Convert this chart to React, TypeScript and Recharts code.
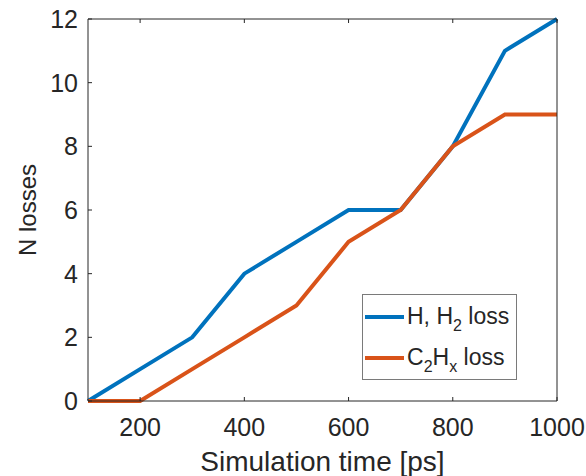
import React from 'react';
import { LineChart, Line, XAxis, YAxis, Legend } from 'recharts';

// simulation time [ps]
const times = [100, 200, 300, 400, 500, 600, 700, 800, 900, 1000];
// H, H2 loss
const hLoss = [0, 1, 2, 4, 5, 6, 6, 8, 11, 12];
// C2Hx loss
const cLoss = [0, 0, 1, 2, 3, 5, 6, 8, 9, 9];

const xTicks = [200, 400, 600, 800, 1000];
const yTicks = [0, 2, 4, 6, 8, 10, 12];

const BLUE = '#0072BD';
const ORANGE = '#D95319';
const AXIS = '#262626';
const FONT = '"Liberation Sans", Arial, Helvetica, sans-serif';

const data = times.map((t, i) => ({ t, h: hLoss[i], c: cLoss[i] }));

const noTick = () => <g />;

function LegendBox() {
    const row = (color: string, label: React.ReactNode) => (
        <div style={{ display: 'flex', alignItems: 'center', height: 41 }}>
            <div style={{ width: 39, height: 4, background: color, marginLeft: 2, marginRight: 3 }} />
            <span style={{ fontSize: 23, color: AXIS, whiteSpace: 'nowrap' }}>{label}</span>
        </div>
    );
    const sub = (s: string) => (
        <sub style={{ fontSize: 16, verticalAlign: 'baseline', position: 'relative', top: 7 }}>{s}</sub>
    );
    return (
        <div
            style={{
                boxSizing: 'border-box',
                width: 155,
                height: 86,
                border: '1px solid #7a7a7a',
                background: '#fff',
                fontFamily: FONT,
                paddingTop: 1,
            }}
        >
            {row(BLUE, <>H, H{sub('2')} loss</>)}
            {row(ORANGE, <>C{sub('2')}H{sub('x')} loss</>)}
        </div>
    );
}

export default function App() {
    return (
        <div style={{ position: 'absolute', left: 0, top: 0, background: '#fff' }}>
            <LineChart
                width={586}
                height={476}
                data={data}
                margin={{ top: 19, right: 29, left: 0, bottom: 0 }}
            >
                <XAxis
                    dataKey="t"
                    type="number"
                    domain={[100, 1000]}
                    ticks={xTicks}
                    height={75}
                    stroke={AXIS}
                    tickSize={-4}
                    tickMargin={21}
                    tick={{ fill: AXIS, fontSize: 25, fontFamily: FONT }}
                    label={{
                        value: 'Simulation time [ps]',
                        position: 'insideBottom',
                        offset: 5,
                        fill: AXIS,
                        fontSize: 28,
                        fontFamily: FONT,
                    }}
                />
                <XAxis
                    xAxisId="top"
                    dataKey="t"
                    type="number"
                    domain={[100, 1000]}
                    ticks={xTicks}
                    orientation="top"
                    height={1}
                    mirror
                    stroke={AXIS}
                    tickSize={4}
                    tick={noTick}
                />
                <YAxis
                    type="number"
                    domain={[0, 12]}
                    ticks={yTicks}
                    width={88}
                    stroke={AXIS}
                    tickSize={-4}
                    tickMargin={14}
                    tick={{ fill: AXIS, fontSize: 25, fontFamily: FONT }}
                    label={{
                        content: () => (
                            <text
                                x={36}
                                y={210}
                                transform="rotate(-90, 36, 210)"
                                textAnchor="middle"
                                fill={AXIS}
                                fontSize={24}
                                fontFamily={FONT}
                            >
                                N losses
                            </text>
                        ),
                    }}
                />
                <YAxis
                    yAxisId="right"
                    type="number"
                    domain={[0, 12]}
                    ticks={yTicks}
                    orientation="right"
                    width={1}
                    mirror
                    stroke={AXIS}
                    tickSize={4}
                    tick={noTick}
                />
                <Line
                    dataKey="h"
                    name="H, H2 loss"
                    stroke={BLUE}
                    strokeWidth={4}
                    dot={false}
                    activeDot={false}
                    isAnimationActive={false}
                />
                <Line
                    dataKey="c"
                    name="C2Hx loss"
                    stroke={ORANGE}
                    strokeWidth={4}
                    dot={false}
                    activeDot={false}
                    isAnimationActive={false}
                />
                <Legend
                    layout="horizontal"
                    verticalAlign="middle"
                    align="center"
                    content={() => <LegendBox />}
                    wrapperStyle={{ left: 362, top: 294, width: 155, height: 86, right: 'auto', bottom: 'auto' }}
                />
            </LineChart>
        </div>
    );
}
